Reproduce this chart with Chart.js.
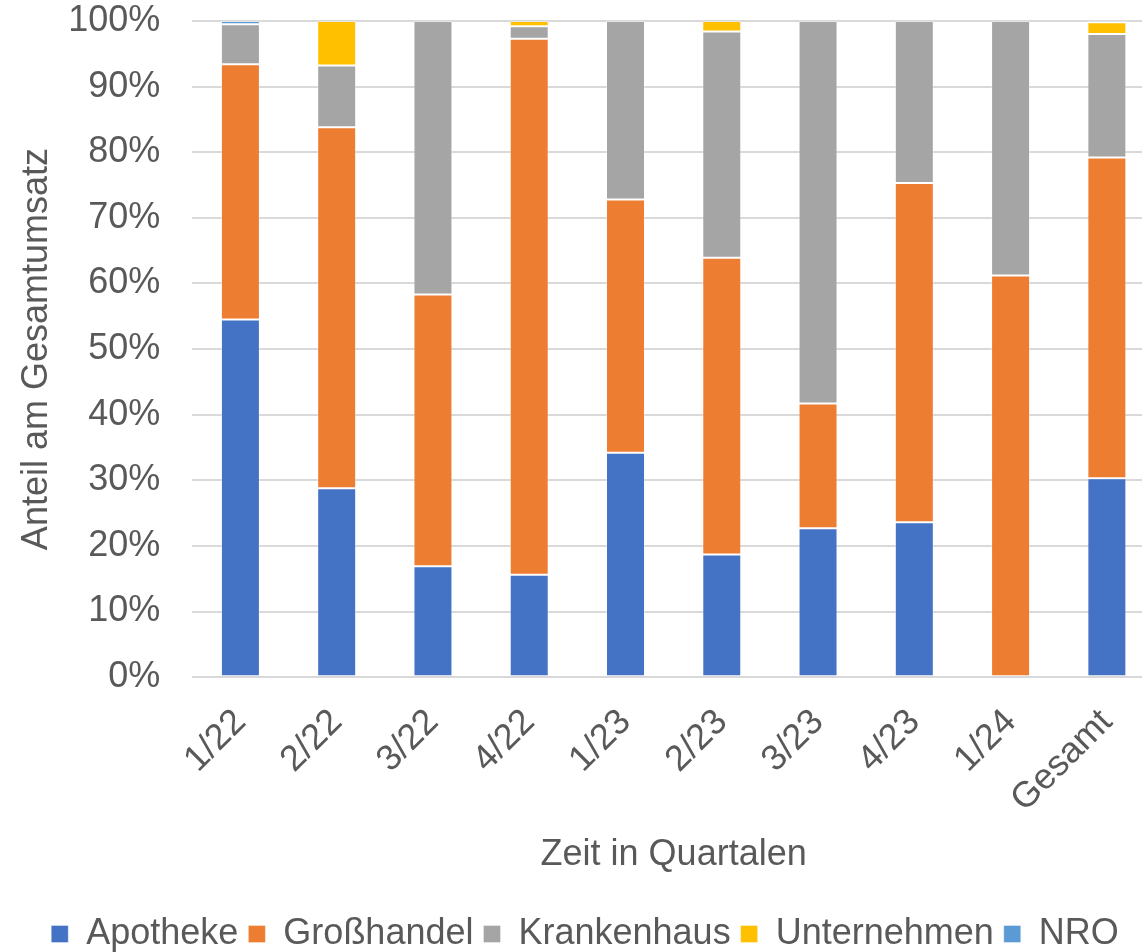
<!DOCTYPE html>
<html lang="de">
<head>
<meta charset="utf-8">
<title>Anteil am Gesamtumsatz nach Quartalen</title>
<script src="https://cdn.jsdelivr.net/npm/chart.js@4/dist/chart.umd.min.js"></script>
<style>
  html, body { margin: 0; padding: 0; background: #ffffff; overflow: hidden; }
  #wrap { position: relative; width: 1155px; height: 962px; }
</style>
</head>
<body>
<div id="wrap"><canvas id="chart"></canvas></div>
<script>
// Quartale
const quarters = ['1/22', '2/22', '3/22', '4/22', '1/23', '2/23', '3/23', '4/23', '1/24', 'Gesamt'];

// Anteile je Kundengruppe in Prozent
const apotheke     = [54.5, 28.8, 16.9, 15.6, 34.2, 18.7, 22.7, 23.6, 0.0, 30.3];
const grosshandel  = [38.9, 55.0, 41.4, 81.7, 38.6, 45.2, 19.0, 51.7, 61.2, 48.9];
const krankenhaus  = [6.1, 9.4, 41.7, 1.9, 27.2, 34.5, 58.3, 24.7, 38.8, 18.8];
const unternehmen  = [0.0, 6.8, 0.0, 0.8, 0.0, 1.6, 0.0, 0.0, 0.0, 1.8];
const nro          = [0.5, 0.0, 0.0, 0.0, 0.0, 0.0, 0.0, 0.0, 0.0, 0.2];

// Prozentskala
const yTicks = [0, 10, 20, 30, 40, 50, 60, 70, 80, 90, 100];

const textColor = '#595959';
const fontFamily = '"Liberation Sans", Arial, sans-serif';

function series(label, data, color) {
  return {
    label: label,
    data: data,
    backgroundColor: color,
    borderColor: 'rgba(255,255,255,0.35)',
    borderWidth: 1,
    borderSkipped: false,
    categoryPercentage: 1.0,
    barPercentage: 0.405
  };
}

new Chart(document.getElementById('chart'), {
  type: 'bar',
  data: {
    labels: quarters,
    datasets: [
      series('Apotheke', apotheke, '#4472C4'),
      series('Großhandel', grosshandel, '#ED7D31'),
      series('Krankenhaus', krankenhaus, '#A5A5A5'),
      series('Unternehmen', unternehmen, '#FFC000'),
      series('NRO', nro, '#5B9BD5')
    ]
  },
  options: {
    responsive: true,
    maintainAspectRatio: false,
    animation: false,
    layout: { padding: { top: 0, left: 15, right: 0, bottom: 0 } },
    plugins: {
      legend: {
        position: 'bottom',
        labels: {
          color: textColor,
          font: { family: fontFamily, size: 36 },
          boxWidth: 17,
          boxHeight: 17,
          padding: 10
        }
      },
      tooltip: { enabled: false }
    },
    scales: {
      x: {
        stacked: true,
        grid: { display: false },
        border: { display: false },
        // rotated labels may hang past the plot edges; keep the plot width fixed
        afterFit: function (scale) {
          scale.paddingLeft = 0;
          scale.paddingRight = 0;
        },
        ticks: {
          color: textColor,
          font: { family: fontFamily, size: 36 },
          maxRotation: 45,
          minRotation: 45,
          padding: 16
        },
        title: {
          display: true,
          text: 'Zeit in Quartalen',
          color: textColor,
          font: { family: fontFamily, size: 36 },
          padding: { top: -3, bottom: 29 }
        }
      },
      y: {
        stacked: true,
        min: 0,
        max: 100,
        afterBuildTicks: function (axis) {
          axis.ticks = yTicks.map(function (v) { return { value: v }; });
        },
        afterFit: function (scale) {
          scale.paddingTop = 21;
          scale.paddingBottom = 0;
        },
        grid: { color: '#d9d9d9', lineWidth: 2, drawTicks: false },
        border: { display: false },
        ticks: {
          color: textColor,
          font: { family: fontFamily, size: 36 },
          padding: 32,
          callback: function (v) { return v + '%'; }
        },
        title: {
          display: true,
          text: 'Anteil am Gesamtumsatz',
          color: textColor,
          font: { family: fontFamily, size: 36 },
          padding: { top: 0, bottom: -22 }
        }
      }
    }
  }
});
</script>
</body>
</html>
